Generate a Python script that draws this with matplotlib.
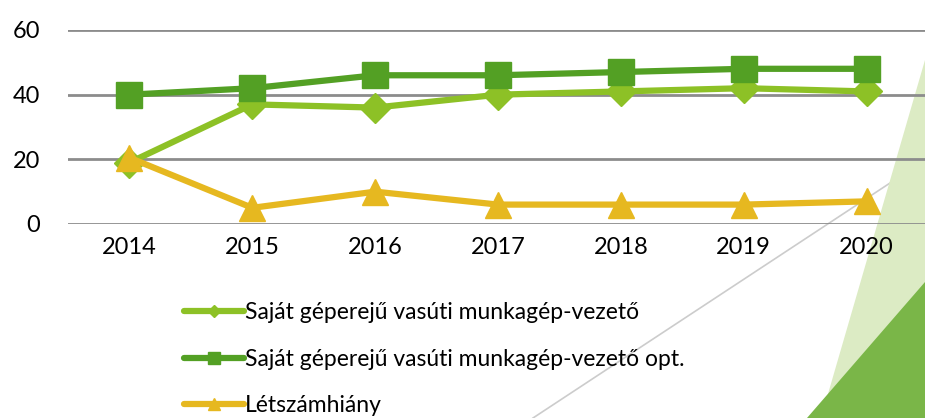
import matplotlib.pyplot as plt
from matplotlib.lines import Line2D
from matplotlib.patches import Polygon

plt.rcParams['font.family'] = ['Lato', 'DejaVu Sans']

years = ['2014', '2015', '2016', '2017', '2018', '2019', '2020']
vezeto = [19, 37, 36, 40, 41, 42, 41]
vezeto_opt = [40, 42, 46, 46, 47, 48, 48]
letszamhiany = [20.5, 5, 10, 6, 6, 6, 7]

labels = ['Saját géperejű vasúti munkagép-vezető',
          'Saját géperejű vasúti munkagép-vezető opt.',
          'Létszámhiány']
colors = ['#8dc126', '#53a024', '#e6b820']
markers = ['D', 's', '^']
msizes = [15, 19, 19]

fig = plt.figure(figsize=(9.25, 4.18), dpi=100)

# slide decoration in the background
fig.patches.append(Polygon([(925/925, 1-60/418), (1, 0), (821/925, 0)],
                           closed=True, transform=fig.transFigure,
                           facecolor='#dcebc4', edgecolor='none', zorder=0))
fig.patches.append(Polygon([(1, 1-282/418), (1, 0), (807/925, 0)],
                           closed=True, transform=fig.transFigure,
                           facecolor='#7ab648', edgecolor='none', zorder=0))
fig.lines.append(Line2D([533/925, 1], [0, 1-160/418], transform=fig.transFigure,
                        color='#cccccc', lw=1.2, zorder=0))

ax = fig.add_axes([68/925, 1-224/418, 860/925, 194/418])
ax.set_zorder(2)
ax.patch.set_alpha(0)
x = range(len(years))
series = [vezeto, vezeto_opt, letszamhiany]
for vals, c, m, ms, lab in zip(series, colors, markers, msizes, labels):
    ax.plot(x, vals, color=c, lw=4.5, marker=m, ms=ms, label=lab,
            solid_capstyle='round', zorder=3)

ax.set_xlim(-0.5, 6.5)
ax.set_ylim(0, 60)
ax.set_yticks([0, 20, 40, 60])
ax.set_xticks(list(x))
ax.set_xticklabels(years)
ax.grid(axis='y', color='#8c8c8c', lw=2)
ax.set_axisbelow(True)
for s in ax.spines.values():
    s.set_visible(False)
ax.tick_params(axis='both', length=0, labelsize=17, colors='black')
ax.tick_params(axis='y', pad=20)
ax.tick_params(axis='x', pad=9)

handles = [Line2D([], [], color=c, lw=4.5, marker=m, ms=ms * 0.42,
                  solid_capstyle='round')
           for c, m, ms in zip(colors, markers, msizes)]
leg = fig.legend(handles, labels, loc='upper left', bbox_to_anchor=(184/925, 1-302/418),
                 frameon=False, fontsize=16.5, handlelength=2.6, handletextpad=0.05,
                 labelspacing=1.12, borderpad=0, borderaxespad=0)
leg.set_zorder(3)

fig.savefig('out.png', dpi=100)
